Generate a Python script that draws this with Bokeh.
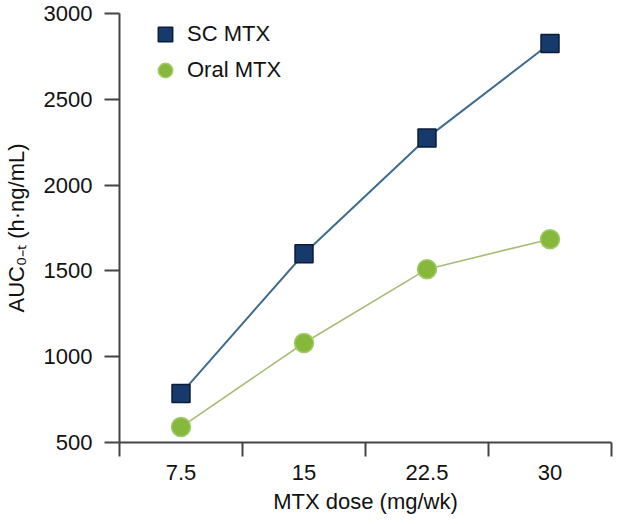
from bokeh.plotting import figure
from bokeh.models import FixedTicker, Range1d, Legend, LegendItem
from bokeh.embed import file_html
from bokeh.resources import INLINE
import numpy as np

doses = ["7.5", "15", "22.5", "30"]
sc_mtx = [785, 1600, 2275, 2825]
oral_mtx = [590, 1080, 1510, 1685]
y_ticks = [500, 1000, 1500, 2000, 2500, 3000]

xpos = np.arange(len(doses)) + 0.5
FONT = "Liberation Sans"
FS = "22px"

p = figure(width=613, height=516, output_backend="svg", toolbar_location=None,
           x_range=Range1d(0, len(doses)), y_range=Range1d(500, 3000),
           min_border_left=117, min_border_right=2, min_border_top=13, min_border_bottom=70)
p.outline_line_color = None
p.grid.visible = False
p.background_fill_color = None

# lines
p.line(xpos, sc_mtx, line_color="#3f6b8c", line_width=2)
p.line(xpos, oral_mtx, line_color="#a9bb78", line_width=1.6)
r_sc = p.scatter(xpos, sc_mtx, marker="square", size=18, fill_color="#163a6b",
                 line_color="#0c1c38", line_width=1.5)
r_or = p.scatter(xpos, oral_mtx, marker="circle", size=19, fill_color="#86b83c",
                 line_color="#a3c96a", line_width=1.5)

# x axis
xa = p.xaxis[0]
xa.ticker = FixedTicker(ticks=list(xpos), minor_ticks=list(range(len(doses) + 1)))
xa.major_label_overrides = {float(x): d for x, d in zip(xpos, doses)}
xa.major_tick_out = 14
xa.major_tick_in = 0
xa.major_tick_line_color = None
xa.minor_tick_out = 14
xa.minor_tick_in = 0
xa.minor_tick_line_color = "#444444"
xa.minor_tick_line_width = 2
xa.axis_line_color = "#444444"
xa.axis_line_width = 2
xa.major_label_standoff = 8
xa.major_label_text_font = FONT
xa.major_label_text_font_size = FS
xa.major_label_text_color = "#111111"
xa.axis_label = "MTX dose (mg/wk)"
xa.axis_label_text_font = FONT
xa.axis_label_text_font_size = FS
xa.axis_label_text_font_style = "normal"
xa.axis_label_text_color = "#111111"
xa.axis_label_standoff = 6

# y axis
ya = p.yaxis[0]
ya.ticker = FixedTicker(ticks=y_ticks, minor_ticks=[])
ya.major_tick_out = 15
ya.major_tick_in = 0
ya.major_tick_line_color = "#444444"
ya.major_tick_line_width = 2
ya.axis_line_color = "#444444"
ya.axis_line_width = 2
ya.major_label_standoff = 12
ya.major_label_text_font = FONT
ya.major_label_text_font_size = FS
ya.major_label_text_color = "#111111"
ya.axis_label = "AUC₀₋ₜ (h·ng/mL)"
ya.axis_label_text_font = FONT
ya.axis_label_text_font_size = FS
ya.axis_label_text_font_style = "normal"
ya.axis_label_text_color = "#111111"
ya.axis_label_standoff = 12

legend = Legend(items=[LegendItem(label="SC MTX", renderers=[r_sc]),
                       LegendItem(label="Oral MTX", renderers=[r_or])],
                location=(24, 354))
legend.border_line_color = None
legend.background_fill_alpha = 0
legend.padding = 0
legend.margin = 0
legend.spacing = 0
legend.glyph_width = 44
legend.glyph_height = 36
legend.label_standoff = 0
legend.label_text_font = FONT
legend.label_text_font_size = FS
legend.label_text_color = "#111111"
p.add_layout(legend)

open("out.html", "w").write(file_html(p, INLINE))
